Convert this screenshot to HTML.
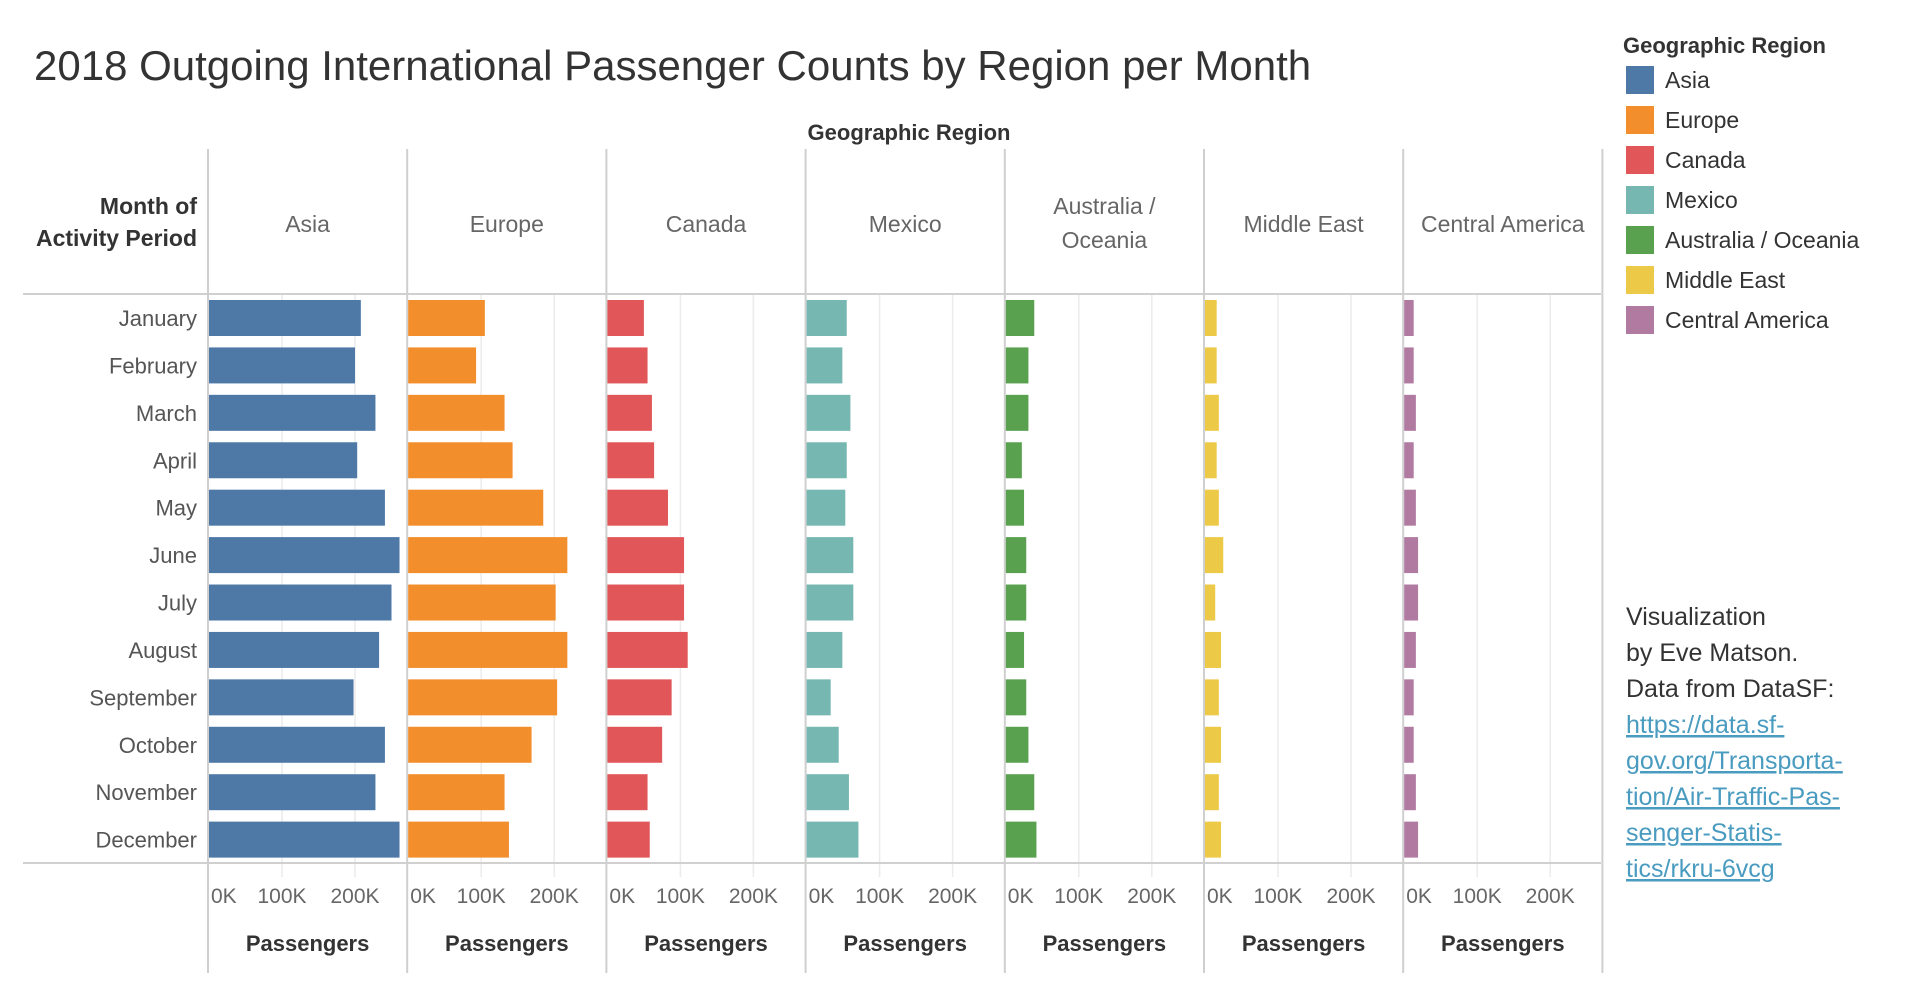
<!DOCTYPE html>
<html><head><meta charset="utf-8">
<style>
html,body{margin:0;padding:0;background:#fff;}
body{width:1920px;height:1000px;overflow:hidden;font-family:"Liberation Sans","DejaVu Sans",sans-serif;}
svg text{font-family:"Liberation Sans","DejaVu Sans",sans-serif;}
</style></head>
<body>
<svg id="chart" width="1920" height="1000" xmlns="http://www.w3.org/2000/svg">
<text x="34" y="80" font-size="42" fill="#333">2018 Outgoing International Passenger Counts by Region per Month</text>
<text x="909" y="140" font-size="22" font-weight="bold" fill="#333" text-anchor="middle">Geographic Region</text>
<text x="197" y="214" font-size="23" font-weight="bold" fill="#333" text-anchor="end">Month of</text>
<text x="197" y="246" font-size="23" font-weight="bold" fill="#333" text-anchor="end">Activity Period</text>
<g id="plot"></g>
<g id="legend">
<text x="1623" y="53" font-size="22" font-weight="bold" fill="#333">Geographic Region</text>
</g>
<g font-size="25" fill="#333">
<text x="1626" y="625">Visualization</text>
<text x="1626" y="661">by Eve Matson.</text>
<text x="1626" y="697">Data from DataSF:</text>
<a>
<text x="1626" y="733" fill="#4a9bc0" text-decoration="underline">https://data.sf-</text>
<text x="1626" y="769" fill="#4a9bc0" text-decoration="underline">gov.org/Transporta-</text>
<text x="1626" y="805" fill="#4a9bc0" text-decoration="underline">tion/Air-Traffic-Pas-</text>
<text x="1626" y="841" fill="#4a9bc0" text-decoration="underline">senger-Statis-</text>
<text x="1626" y="877" fill="#4a9bc0" text-decoration="underline">tics/rkru-6vcg</text>
</a>
</g>
</svg>
<script>
const months = ["January","February","March","April","May","June","July","August","September","October","November","December"];
const regions = ["Asia","Europe","Canada","Mexico","Australia / Oceania","Middle East","Central America"];
const colors = ["#4e79a7","#f28e2b","#e15759","#76b7b2","#59a14f","#edc948","#b07aa1"];
const asia = [208,200,228,203,241,261,250,233,198,241,228,261];
const europe = [105,93,132,143,185,218,202,218,204,169,132,138];
const canada = [50,55,61,64,83,105,105,110,88,75,55,58];
const mexico = [55,49,60,55,53,64,64,49,33,44,58,71];
const australia = [39,31,31,22,25,28,28,25,28,31,39,42];
const middleEast = [16,16,19,16,19,25,14,22,19,22,19,22];
const centralAmerica = [13,13,16,13,16,19,19,16,13,13,16,19];
const tickValues = [0,100,200];
const tickLabels = ["0K","100K","200K"];
const series = [asia,europe,canada,mexico,australia,middleEast,centralAmerica];

const NS = "http://www.w3.org/2000/svg";
const plot = document.getElementById('plot');
const legend = document.getElementById('legend');
const panelLeft = 208, panelW = 199.2, rowTop = 294, rowH = 47.42, barH = 36, barOff = 6;
const pxPerK = 0.73;
function x(i, v){ return panelLeft + i*panelW + 1 + v*pxPerK; }
function y(j){ return rowTop + j*rowH + barOff; }
function mk(tag, attrs, parent){
  const el = document.createElementNS(NS, tag);
  for (const k in attrs) el.setAttribute(k, attrs[k]);
  (parent||plot).appendChild(el);
  return el;
}
const bottom = rowTop + 12*rowH;
regions.forEach((r,i)=>{
  tickValues.forEach((t,k)=>{
    if (t===0) return;
    const g = mk('line',{x1:x(i,t),x2:x(i,t),y1:rowTop,y2:bottom+14,stroke:'#ececec','stroke-width':1.5});
    
    
  });
});
let l1 = mk('line',{x1:23,x2:1601,y1:rowTop,y2:rowTop,stroke:'#d0d0d0','stroke-width':2});


let l2 = mk('line',{x1:23,x2:1601,y1:bottom,y2:bottom,stroke:'#d0d0d0','stroke-width':2});


for (let i=0;i<=7;i++){
  const xx = panelLeft + i*panelW;
  const d = mk('line',{x1:xx,x2:xx,y1:149,y2:973,stroke:'#cfcfcf','stroke-width':2});
  
  
}
months.forEach((m,j)=>{
  const t = mk('text',{x:197,y:y(j)+barH/2+8,'font-size':22,fill:'#555','text-anchor':'end'});
  t.textContent = m;
  
  
});
regions.forEach((r,i)=>{
  const cx = panelLeft + i*panelW + panelW/2;
  if (r.indexOf(' / ')>=0){
    const parts = r.split(' / ');
    const t1 = mk('text',{x:cx,y:214,'font-size':23,fill:'#666','text-anchor':'middle'});
    t1.textContent = parts[0]+' /';
    
    
    const t2 = mk('text',{x:cx,y:248,'font-size':23,fill:'#666','text-anchor':'middle'});
    t2.textContent = parts[1];
    
    
  } else {
    const t = mk('text',{x:cx,y:232,'font-size':23,fill:'#666','text-anchor':'middle'});
    t.textContent = r;
    
    
  }
  series[i].forEach((v,j)=>{
    const b = mk('rect',{x:x(i,0),y:y(j),width:Math.max(0,v*pxPerK),height:barH,fill:colors[i]});
    
    
  });
  tickValues.forEach((t,k)=>{
    const tx = mk('text',{x:t===0?x(i,t)+2:x(i,t),y:903,'font-size':21,fill:'#666','text-anchor':t===0?'start':'middle'});
    tx.textContent = tickLabels[k];
    
    
  });
  const at = mk('text',{x:cx,y:951,'font-size':22,'font-weight':'bold',fill:'#333','text-anchor':'middle'});
  at.textContent = 'Passengers';
  
  
  const ly = 66 + i*40;
  const sw = mk('rect',{x:1626,y:ly,width:28,height:28,fill:colors[i]},legend);
  
  
  const lt = mk('text',{x:1665,y:ly+22,'font-size':23,fill:'#333'},legend);
  lt.textContent = r;
  
  
});
</script>
</body></html>
